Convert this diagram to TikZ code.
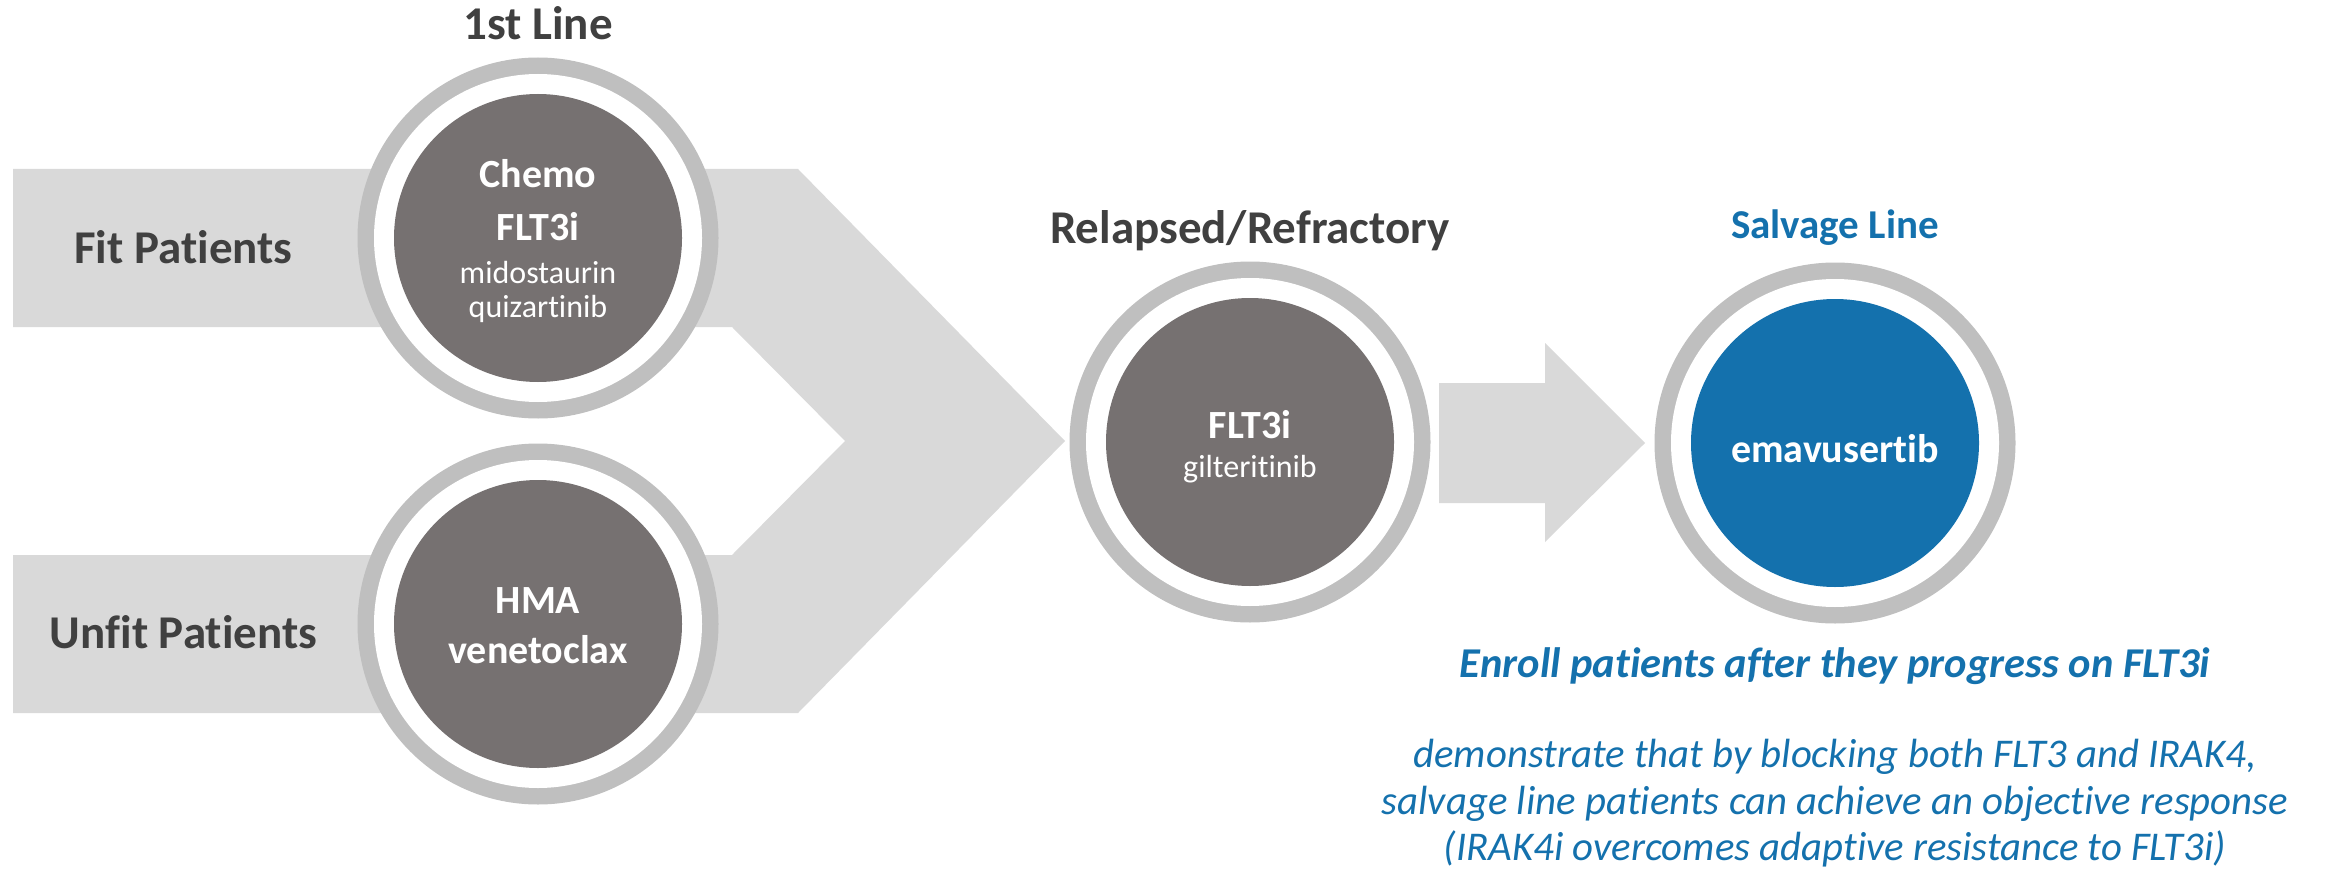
\documentclass[tikz,border=0pt]{standalone}
\usepackage{fontspec}
\setmainfont{Carlito}[Ligatures=NoCommon]
\definecolor{bandgray}{HTML}{D9D9D9}
\definecolor{ringgray}{HTML}{BFBFBF}
\definecolor{coregray}{HTML}{767171}
\definecolor{salvblue}{HTML}{1471AD}
\definecolor{txtgray}{HTML}{404040}
\tikzset{
  lbl/.style={anchor=base, inner sep=0pt},
  heading/.style={lbl, text=txtgray, font=\fontsize{47}{56}\selectfont\bfseries},
  bluehead/.style={lbl, text=salvblue, font=\fontsize{41}{49}\selectfont\bfseries},
  incirc/.style={lbl, text=white, font=\fontsize{40}{48}\selectfont\bfseries},
  incircsmall/.style={lbl, text=white, font=\fontsize{32}{38}\selectfont},
  enrolltxt/.style={lbl, text=salvblue, font=\fontsize{42.5}{50}\selectfont\bfseries\itshape},
  notetxt/.style={lbl, text=salvblue, font=\fontsize{40.8}{49}\selectfont\itshape},
  flowshape/.style={fill=bandgray},
  corecirc/.style={circle, inner sep=0pt, minimum size=288pt},
}
\newcommand\ringcirc[3]{%
  \fill[ringgray] (#2) circle[radius=180.5pt];
  \fill[white] (#2) circle[radius=164pt];
  \node[corecirc, fill=#3] (#1) at (#2) {};
}
\begin{document}
\begin{tikzpicture}[x=1pt,y=-1pt]
\useasboundingbox (0,0) rectangle (2333,869);
% merging bands (chevron)
\fill[flowshape] (13,169) -- (798,169) -- (1065,441) -- (798,713) -- (13,713)
  -- (13,555) -- (732,555) -- (845,441) -- (732,327) -- (13,327) -- cycle;
% arrow to salvage line
\fill[flowshape] (1439,383) -- (1545,383) -- (1545,343) -- (1645,443)
  -- (1545,542) -- (1545,503) -- (1439,503) -- cycle;
% circles
\ringcirc{c1}{538,238}{coregray}
\ringcirc{c2}{538,624}{coregray}
\ringcirc{c3}{1250,442}{coregray}
\ringcirc{c4}{1835,443}{salvblue}
% headings
\node[heading] (h1) at (538,40) {1st Line};
\node[heading] (h2) at (1250,243) {Relapsed/Refractory};
\node[bluehead] (h3) at (1835,238) {Salvage Line};
\node[heading] (fit) at (183.5,263) {Fit Patients};
\node[heading] (unfit) at (183.5,648) {Unfit Patients};
% circle texts
\node[incirc] (t1a) at (538,188) {Chemo};
\node[incirc] (t1b) at (538,240) {FLT3i};
\node[incircsmall] (t1c) at (538,283) {midostaurin};
\node[incircsmall] (t1d) at (538,317) {quizartinib};
\node[incirc] (t2a) at (538,613) {HMA};
\node[incirc] (t2b) at (538,663) {venetoclax};
\node[incirc] (t3a) at (1250,438) {FLT3i};
\node[incircsmall] (t3b) at (1250,477) {gilteritinib};
\node[incirc] (t4a) at (1835,462) {emavusertib};
% notes
\node[enrolltxt] (enroll) at (1835,677) {Enroll patients after they progress on FLT3i};
\node[notetxt] (n1) at (1835,767) {demonstrate that by blocking both FLT3 and IRAK4,};
\node[notetxt] (n2) at (1835,814) {salvage line patients can achieve an objective response};
\node[notetxt] (n3) at (1835,860) {(IRAK4i overcomes adaptive resistance to FLT3i)};
\end{tikzpicture}
\end{document}
